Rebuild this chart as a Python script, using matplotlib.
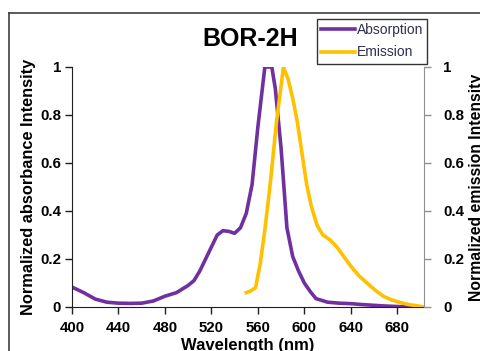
import matplotlib.pyplot as plt
from matplotlib.lines import Line2D

plt.rcParams["font.family"] = ["Liberation Sans", "DejaVu Sans"]

# absorption spectrum (left axis)
abs_wl = [400, 410, 420, 430, 440, 450, 460, 470, 480, 490, 500, 505, 510, 515,
          520, 525, 530, 535, 540, 545, 550, 555, 560, 566, 572, 575, 580, 585,
          590, 595, 600, 605, 610, 620, 630, 640, 650, 660, 670, 680, 690, 700]
abs_int = [0.083, 0.06, 0.033, 0.02, 0.016, 0.015, 0.016, 0.025, 0.045, 0.06,
           0.09, 0.11, 0.15, 0.2, 0.25, 0.3, 0.318, 0.315, 0.307, 0.33, 0.39,
           0.51, 0.75, 1.0, 1.0, 0.91, 0.66, 0.33, 0.21, 0.15, 0.1, 0.065,
           0.035, 0.02, 0.016, 0.014, 0.01, 0.007, 0.004, 0.002, 0.0, 0.0]

# emission spectrum (right axis)
em_wl = [550, 553, 558, 562, 566, 571, 576, 582, 586, 590, 594, 598, 602, 606,
         611, 616, 622, 628, 634, 640, 647, 654, 661, 668, 675, 683, 690, 697, 703]
em_int = [0.06, 0.065, 0.08, 0.18, 0.32, 0.53, 0.77, 1.0, 0.95, 0.87, 0.77,
          0.64, 0.51, 0.42, 0.34, 0.3, 0.28, 0.25, 0.21, 0.17, 0.13, 0.1,
          0.07, 0.045, 0.03, 0.018, 0.01, 0.005, 0.0]

x_ticks = [400, 440, 480, 520, 560, 600, 640, 680]
y_ticks = [0, 0.2, 0.4, 0.6, 0.8, 1]
y_tick_labels = ["0", "0.2", "0.4", "0.6", "0.8", "1"]

purple = "#7030A0"
gold = "#FFC000"

fig = plt.figure(figsize=(4.8, 3.51), dpi=100)
ax = fig.add_axes([72 / 480, 1 - 307 / 351, (424 - 72) / 480, (307 - 67) / 351])
ax2 = ax.twinx()

ax.plot(abs_wl, abs_int, color=purple, lw=2.6, solid_joinstyle="round")
ax2.plot(em_wl, em_int, color=gold, lw=2.6, solid_joinstyle="round")

ax.set_xlim(400, 703)
ax.set_ylim(0, 1)
ax2.set_ylim(0, 1)
ax.set_xticks(x_ticks)
ax.set_xticklabels([str(t) for t in x_ticks], fontsize=10.8, fontweight="bold")
ax.set_yticks(y_ticks)
ax.set_yticklabels(y_tick_labels, fontsize=10.8, fontweight="bold")
ax2.set_yticks(y_ticks)
ax2.set_yticklabels(y_tick_labels, fontsize=10.8, fontweight="bold")

for a in (ax, ax2):
    a.spines["top"].set_visible(False)
ax.spines["right"].set_visible(False)
ax.spines["left"].set_color("#202020")
ax.spines["bottom"].set_color("#202020")
ax2.spines["left"].set_visible(False)
ax2.spines["bottom"].set_visible(False)
ax2.spines["right"].set_color("#909090")
ax.tick_params(axis="y", direction="out", length=5, width=1, color="#202020", pad=3)
ax.tick_params(axis="x", direction="out", length=5, width=1, color="#202020", pad=5)
ax2.tick_params(axis="y", direction="out", length=5, width=1, color="#909090", pad=9)

ax.set_xlabel("Wavelength (nm)", fontsize=12, fontweight="bold", labelpad=2)
ax.set_ylabel("Normalized absorbance Intensity", fontsize=11.8, fontweight="bold", labelpad=3)
ax2.set_ylabel("Normalized emission Intensity", fontsize=11.3, fontweight="bold", labelpad=3)

fig.text(250 / 480, 1 - 38.5 / 351, "BOR-2H", fontsize=18, fontweight="bold",
         ha="center", va="center")

handles = [Line2D([], [], color=purple, lw=2.6), Line2D([], [], color=gold, lw=2.6)]
leg = fig.legend(handles, ["Absorption", "Emission"], loc="upper left",
                 bbox_to_anchor=(317 / 480, 1 - 19 / 351), fontsize=10,
                 frameon=True, fancybox=False, handlelength=2.4, handletextpad=0.15,
                 borderpad=0.3, labelspacing=0.6, borderaxespad=0)
leg.get_frame().set_edgecolor("black")
leg.get_frame().set_linewidth(1)
for t in leg.get_texts():
    t.set_color("#2F2F4F")

# outer chart border (cropped on right and bottom)
fig.add_artist(Line2D([9 / 480, 9 / 480], [0, 1 - 13 / 351], color="#404040", lw=1.2))
fig.add_artist(Line2D([9 / 480, 1], [1 - 13 / 351, 1 - 13 / 351], color="#404040", lw=1.2))

fig.savefig("out.png", dpi=100)
